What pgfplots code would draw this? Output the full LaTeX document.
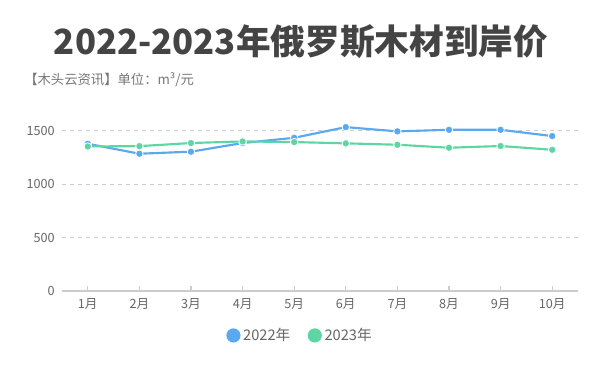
\documentclass[border=0pt]{standalone}
\usepackage{fontspec}
\setmainfont{Noto Sans CJK SC}
\usepackage{pgfplots}
\pgfplotsset{compat=1.18}
\definecolor{cblue}{HTML}{5AA8EE}
\definecolor{cgreen}{HTML}{5ED6A4}
\definecolor{ctitle}{HTML}{444444}
\definecolor{csub}{HTML}{777777}
\definecolor{ctick}{HTML}{666666}
\definecolor{cgrid}{HTML}{CCCCCC}
\begin{document}
\begin{tikzpicture}
\useasboundingbox[fill=white] (0pt,0pt) rectangle (450pt,280.5pt);
\node[font=\fontsize{26pt}{28pt}\selectfont\bfseries, text=ctitle, inner sep=0pt] at (225.75pt,249pt) {2022-2023年俄罗斯木材到岸价};
\node[font=\fontsize{10pt}{12pt}\selectfont, text=csub, anchor=west, inner sep=0pt] at (18pt,220.5pt) {【木头云资讯】单位：m³/元};
\begin{axis}[
  at={(46.5pt,62.25pt)}, anchor=origin,
  scale only axis, width=387pt, height=128.2pt,
  xmin=0.5, xmax=10.5, ymin=0, ymax=1600,
  xtick={1,...,10},
  xticklabels={1月,2月,3月,4月,5月,6月,7月,8月,9月,10月},
  ytick={0,500,1000,1500},
  axis x line*=bottom, axis y line*=left,
  x axis line style={draw=cgrid, line width=0.8pt, -},
  y axis line style={draw=none},
  xtick style={draw=cgrid, line width=0.8pt},
  ytick style={draw=none},
  major tick length=4pt,
  ymajorgrids, grid style={draw=cgrid, dashed, line width=0.6pt},
  tick label style={font=\fontsize{9.5pt}{11pt}\selectfont, text=ctick},
  /pgf/number format/assume math mode=true,
  /pgf/number format/set thousands separator={},
  yticklabel style={xshift=-2pt},
  xticklabel style={yshift=-2pt},
  clip=false,
  legend columns=2,
  legend style={draw=none, fill=none, at={(0.462,-0.26)}, anchor=center,
    font=\fontsize{11pt}{13pt}\selectfont, text=ctick,
    /tikz/every even column/.append style={column sep=11pt}},
  legend image code/.code={\fill[#1] (0.25cm,0cm) circle (4.5pt);},
]
\addplot[cblue, line width=1.6pt, mark=*, mark size=2.8pt, mark options={draw=white, line width=0.6pt, fill=cblue}]
coordinates {(1,1378) (2,1285) (3,1304) (4,1385) (5,1434) (6,1534) (7,1494) (8,1509) (9,1509) (10,1450)};
\addlegendentry{2022年}
\addplot[cgreen, line width=1.6pt, mark=*, mark size=2.8pt, mark options={draw=white, line width=0.6pt, fill=cgreen}]
coordinates {(1,1353) (2,1356) (3,1385) (4,1400) (5,1394) (6,1382) (7,1369) (8,1341) (9,1357) (10,1322)};
\addlegendentry{2023年}
\end{axis}
\end{tikzpicture}
\end{document}
